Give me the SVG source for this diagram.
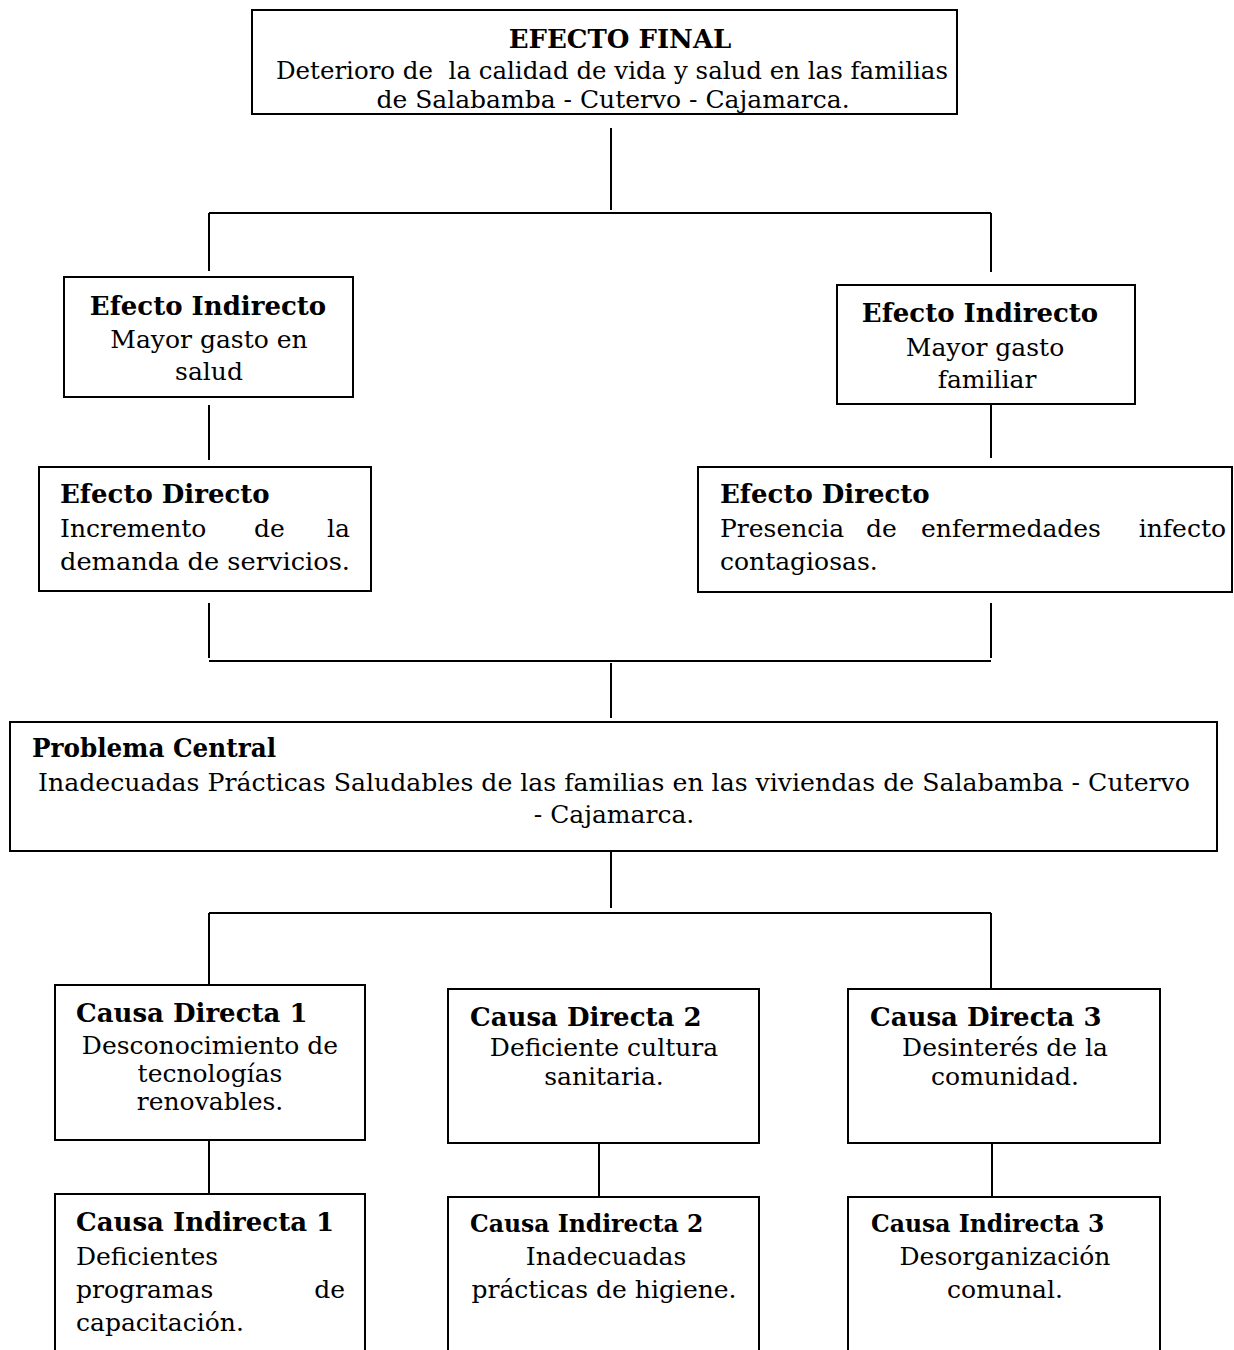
<svg xmlns="http://www.w3.org/2000/svg" width="1234" height="1350" viewBox="0 0 1234 1350">
<style>
.box{fill:#fff;stroke:#000;stroke-width:2}
.ln{stroke:#000;stroke-width:2;fill:none}
text{font-family:"DejaVu Serif","Liberation Serif",serif;font-size:25px;fill:#000}
.b{font-weight:bold;font-size:26px}
.s{font-size:23.5px}
.c{text-anchor:middle}
.e{text-anchor:end}
</style>
<rect width="1234" height="1350" fill="#fff"/>
<g id="connectors">
<path class="ln" d="M611 128V210M209 213H991M209 213V271M991 213V272"/>
<path class="ln" d="M209 405V460M991 404V458"/>
<path class="ln" d="M209 603V658M991 603V658M209 661H991M611 663V718"/>
<path class="ln" d="M611 851V908M209 913H991M209 913V985M991 913V989"/>
<path class="ln" d="M209 1140V1194M599 1143V1197M992 1143V1197"/>
</g>
<g id="efecto-final">
<rect class="box" x="252" y="10" width="705" height="104"/>
<text class="b c" x="620" y="48">EFECTO FINAL</text>
<text class="c" x="612" y="79" textLength="672" lengthAdjust="spacingAndGlyphs" xml:space="preserve">Deterioro de  la calidad de vida y salud en las familias</text>
<text class="c" x="613" y="108">de Salabamba - Cutervo - Cajamarca.</text>
</g>
<g id="efecto-indirecto-1">
<rect class="box" x="64" y="277" width="289" height="120"/>
<text class="b c" x="208" y="315">Efecto Indirecto</text>
<text class="c" x="209" y="348">Mayor gasto en</text>
<text class="c" x="209" y="380">salud</text>
</g>
<g id="efecto-indirecto-2">
<rect class="box" x="837" y="285" width="298" height="119"/>
<text class="b c" x="980" y="322">Efecto Indirecto</text>
<text class="c" x="985" y="356">Mayor gasto</text>
<text class="c" x="987" y="388">familiar</text>
</g>
<g id="efecto-directo-1">
<rect class="box" x="39" y="467" width="332" height="124"/>
<text class="b" x="60" y="503">Efecto Directo</text>
<text x="60" y="537">Incremento</text>
<text x="254" y="537">de</text>
<text class="e" x="350" y="537">la</text>
<text x="60" y="570" textLength="290" lengthAdjust="spacingAndGlyphs">demanda de servicios.</text>
</g>
<g id="efecto-directo-2">
<rect class="box" x="698" y="467" width="534" height="125"/>
<text class="b" x="720" y="503">Efecto Directo</text>
<text x="720" y="537">Presencia</text>
<text x="866" y="537">de</text>
<text x="921" y="537">enfermedades</text>
<text class="e" x="1226" y="537">infecto</text>
<text x="720" y="570">contagiosas.</text>
</g>
<g id="problema-central">
<rect class="box" x="10" y="722" width="1207" height="129"/>
<text class="b" x="32" y="757" textLength="244" lengthAdjust="spacingAndGlyphs">Problema Central</text>
<text class="c" x="614" y="791" textLength="1152" lengthAdjust="spacingAndGlyphs">Inadecuadas Prácticas Saludables de las familias en las viviendas de Salabamba - Cutervo</text>
<text class="c" x="614" y="823">- Cajamarca.</text>
</g>
<g id="causa-directa-1">
<rect class="box" x="55" y="985" width="310" height="155"/>
<text class="b" x="76" y="1022">Causa Directa 1</text>
<text class="c" x="210" y="1054">Desconocimiento de</text>
<text class="c" x="210" y="1082">tecnologías</text>
<text class="c" x="210" y="1110">renovables.</text>
</g>
<g id="causa-directa-2">
<rect class="box" x="448" y="989" width="311" height="154"/>
<text class="b" x="470" y="1026">Causa Directa 2</text>
<text class="c" x="604" y="1056">Deficiente cultura</text>
<text class="c" x="604" y="1085">sanitaria.</text>
</g>
<g id="causa-directa-3">
<rect class="box" x="848" y="989" width="312" height="154"/>
<text class="b" x="870" y="1026">Causa Directa 3</text>
<text class="c" x="1005" y="1056">Desinterés de la</text>
<text class="c" x="1005" y="1085">comunidad.</text>
</g>
<g id="causa-indirecta-1">
<rect class="box" x="55" y="1194" width="310" height="170"/>
<text class="b" x="76" y="1231">Causa Indirecta 1</text>
<text x="76" y="1265">Deficientes</text>
<text x="76" y="1298">programas</text>
<text class="e" x="345" y="1298">de</text>
<text x="76" y="1331">capacitación.</text>
</g>
<g id="causa-indirecta-2">
<rect class="box" x="448" y="1197" width="311" height="170"/>
<text class="b s" x="470" y="1232">Causa Indirecta 2</text>
<text class="c" x="606" y="1265">Inadecuadas</text>
<text class="c" x="604" y="1298">prácticas de higiene.</text>
</g>
<g id="causa-indirecta-3">
<rect class="box" x="848" y="1197" width="312" height="170"/>
<text class="b s" x="871" y="1232">Causa Indirecta 3</text>
<text class="c" x="1005" y="1265">Desorganización</text>
<text class="c" x="1005" y="1298">comunal.</text>
</g>
</svg>
